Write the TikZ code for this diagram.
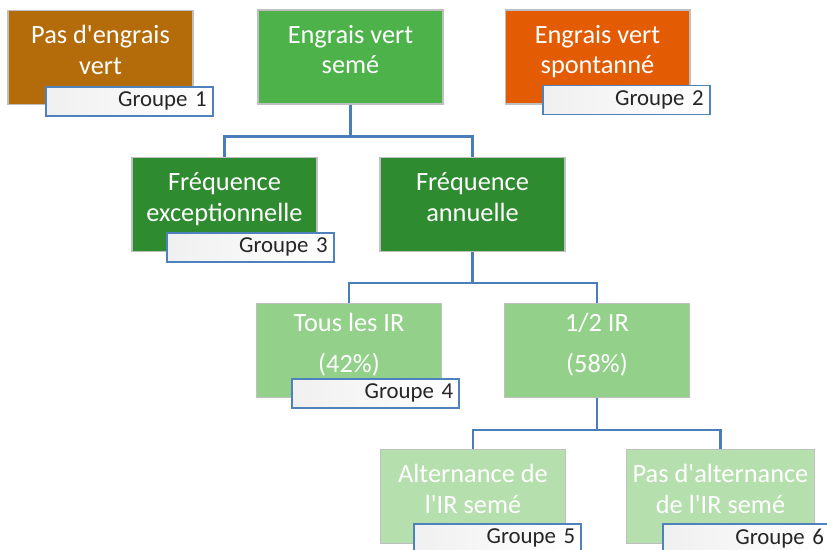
\documentclass[tikz,border=0pt]{standalone}
\usepackage{fontspec}
\setmainfont{Carlito}[Ligatures=TeXOff]
\definecolor{brun}{HTML}{B46C0A}
\definecolor{vertseme}{HTML}{4DB24A}
\definecolor{orange}{HTML}{E35C04}
\definecolor{vertfonce}{HTML}{2F8B30}
\definecolor{vertclair}{HTML}{93D08A}
\definecolor{vertpale}{HTML}{B6DFAE}
\definecolor{bleu}{HTML}{4F81BD}
\definecolor{bleulien}{HTML}{4A7EBB}

\tikzset{
  boite/.style={draw=black!25, line width=0.6pt, minimum width=3.7cm, minimum height=1.88cm,
    align=center, text=white, text depth=0.3cm, font=\fontsize{15}{17.5}\selectfont},
  groupe/.style={draw=bleu, line width=0.9pt, left color=black!6, right color=white,
    text width=3.1cm, align=right, inner xsep=0.12cm, inner ysep=0pt, minimum height=0.58cm,
    text=black!85, font=\fontsize{13}{14}\selectfont, anchor=north east},
  lien/.style={draw=bleulien, line width=1.4pt}
}

\begin{document}
\begin{tikzpicture}[x=0.02cm,y=-0.02cm]
\useasboundingbox (0,0) rectangle (827,549);
\clip (0,0) rectangle (827,549);

\node[boite,fill=brun] (pas) at (100.5,57.5) {Pas d'engrais\\vert};
\node[boite,fill=vertseme] (seme) at (350.5,57) {Engrais vert\\semé};
\node[boite,fill=orange] (spont) at (597.5,57) {Engrais vert\\spontanné};

\node[boite,fill=vertfonce] (excep) at (224.5,204.5) {Fréquence\\exceptionnelle};
\node[boite,fill=vertfonce] (annu) at (472.5,204.5) {Fréquence\\annuelle};

\node[boite,fill=vertclair] (tous) at (349,350.5) {Tous les IR\\[6pt](42\%)};
\node[boite,fill=vertclair] (demi) at (597,350.5) {1/2 IR\\[6pt](58\%)};

\node[boite,fill=vertpale] (alt) at (473,496.5) {Alternance de\\l'IR semé};
\node[boite,fill=vertpale] (pasalt) at (720.5,496.5) {Pas d'alternance\\de l'IR semé};

\draw[lien] (seme.south) -- ++(0,32) -| (excep.north);
\draw[lien] (seme.south) -- ++(0,32) -| (annu.north);
\draw[lien] (annu.south) -- ++(0,31) -| (tous.north);
\draw[lien] (annu.south) -- ++(0,31) -| (demi.north);
\draw[lien] (demi.south) -- ++(0,32) -| (alt.north);
\draw[lien] (demi.south) -- ++(0,32) -| (pasalt.north);

\node[groupe] (g1) at ([xshift=0.4cm,yshift=0.38cm]pas.south east) {Groupe 1};
\node[groupe] (g2) at ([xshift=0.4cm,yshift=0.4cm]spont.south east) {Groupe 2};
\node[groupe] (g3) at ([xshift=0.34cm,yshift=0.4cm]excep.south east) {Groupe 3};
\node[groupe] (g4) at ([xshift=0.36cm,yshift=0.4cm]tous.south east) {Groupe 4};
\node[groupe] (g5) at ([xshift=0.32cm,yshift=0.42cm]alt.south east) {Groupe 5};
\node[groupe] (g6) at ([xshift=0.32cm,yshift=0.42cm]pasalt.south east) {Groupe 6};
\end{tikzpicture}
\end{document}
